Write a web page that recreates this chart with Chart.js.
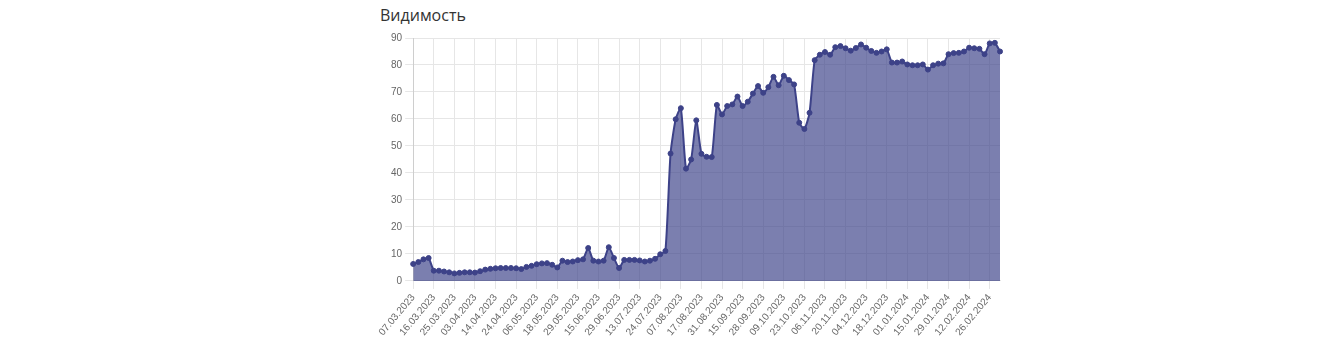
<!DOCTYPE html>
<html>
<head>
<meta charset="utf-8">
<script src="https://cdn.jsdelivr.net/npm/chart.js@4"></script>
<style>
  body { margin: 0; background: #fff; }
  .title { position: absolute; left: 380px; top: 4px; font: 16px "Open Sans", sans-serif; color: #333; }
  .box { position: absolute; left: 378px; top: 29px; width: 627px; height: 312px; }
</style>
</head>
<body>
<div class="title">Видимость</div>
<div class="box"><canvas id="chart"></canvas></div>
<script>
// ── Data ──────────────────────────────────────────────────────────────────────
const dates = [
  "07.03.2023","09.03.2023","11.03.2023","14.03.2023",
  "16.03.2023","18.03.2023","21.03.2023","23.03.2023",
  "25.03.2023","28.03.2023","30.03.2023","01.04.2023",
  "03.04.2023","06.04.2023","09.04.2023","11.04.2023",
  "14.04.2023","16.04.2023","19.04.2023","21.04.2023",
  "24.04.2023","27.04.2023","30.04.2023","03.05.2023",
  "06.05.2023","09.05.2023","12.05.2023","15.05.2023",
  "18.05.2023","21.05.2023","24.05.2023","26.05.2023",
  "29.05.2023","02.06.2023","06.06.2023","11.06.2023",
  "15.06.2023","19.06.2023","22.06.2023","26.06.2023",
  "29.06.2023","03.07.2023","06.07.2023","10.07.2023",
  "13.07.2023","16.07.2023","19.07.2023","21.07.2023",
  "24.07.2023","28.07.2023","31.07.2023","03.08.2023",
  "07.08.2023","10.08.2023","12.08.2023","15.08.2023",
  "17.08.2023","21.08.2023","24.08.2023","28.08.2023",
  "31.08.2023","04.09.2023","08.09.2023","11.09.2023",
  "15.09.2023","18.09.2023","21.09.2023","25.09.2023",
  "28.09.2023","01.10.2023","04.10.2023","06.10.2023",
  "09.10.2023","12.10.2023","16.10.2023","19.10.2023",
  "23.10.2023","26.10.2023","30.10.2023","02.11.2023",
  "06.11.2023","09.11.2023","13.11.2023","16.11.2023",
  "20.11.2023","23.11.2023","27.11.2023","30.11.2023",
  "04.12.2023","07.12.2023","11.12.2023","14.12.2023",
  "18.12.2023","21.12.2023","25.12.2023","28.12.2023",
  "01.01.2024","04.01.2024","08.01.2024","11.01.2024",
  "15.01.2024","18.01.2024","22.01.2024","25.01.2024",
  "29.01.2024","01.02.2024","05.02.2024","08.02.2024",
  "12.02.2024","15.02.2024","19.02.2024","22.02.2024",
  "26.02.2024","29.02.2024","04.03.2024"
];

const visibility = [
  6.3, 7, 8, 8.5, 3.8, 3.8, 3.5, 3.2, 2.8, 3,
  3.2, 3.2, 3.1, 3.6, 4.2, 4.5, 4.7, 4.8, 4.8, 4.8,
  4.7, 4.4, 5.2, 5.6, 6.2, 6.5, 6.6, 6, 5, 7.5,
  7, 7.2, 7.7, 8, 12.2, 7.5, 7.2, 7.5, 12.5, 8.5,
  4.8, 7.8, 7.8, 7.8, 7.6, 7.2, 7.5, 8.2, 9.9, 11.1,
  47.2, 59.9, 64, 41.6, 45, 59.5, 47.1, 46, 45.9, 65.2,
  61.7, 64.8, 65.4, 68.3, 64.8, 66.4, 69.4, 72.2, 69.7, 71.8,
  75.6, 72.5, 76, 74.4, 72.8, 58.6, 56.3, 62.3, 81.8, 83.8,
  84.8, 83.8, 86.6, 87, 86.2, 85.3, 86.3, 87.6, 86.4, 85.2,
  84.5, 85, 85.8, 80.9, 80.9, 81.3, 80.2, 79.9, 79.9, 80.2,
  78.3, 79.9, 80.5, 80.6, 84, 84.4, 84.5, 85, 86.4, 86.2,
  86, 84, 88, 88.2, 85
];

const yMax = 90;
const yStep = 10;
const labelEvery = 4;

// ── Chart ─────────────────────────────────────────────────────────────────────
const lineColor = "#3d4288";
const fillColor = "rgba(60, 66, 137, 0.68)";
const gridColor = "#e6e6e6";
const tickFont  = { family: "'Liberation Sans', Arial, sans-serif", size: 10 };

new Chart(document.getElementById("chart"), {
  type: "line",
  data: {
    labels: dates,
    datasets: [{
      data: visibility,
      borderColor: lineColor,
      backgroundColor: fillColor,
      pointBackgroundColor: lineColor,
      pointBorderColor: lineColor,
      borderWidth: 2,
      pointRadius: 2.5,
      pointBorderWidth: 1,
      tension: 0.2,
      fill: true,
    }],
  },
  options: {
    responsive: true, maintainAspectRatio: false,
    animation: false,
    scales: {
      x: {
        grid: { color: gridColor },
        ticks: {
          autoSkip: false,
          minRotation: 50, maxRotation: 50,
          color: "#666", font: tickFont,
          callback: (v, i) => (i % labelEvery === 0 ? dates[i] : null),
        },
      },
      y: {
        min: 0, max: yMax,
        grid: { color: gridColor },
        ticks: { stepSize: yStep, color: "#666", font: tickFont },
      },
    },
    plugins: {
      legend: { display: false },
      tooltip: { enabled: false },
    },
  },
});
</script>
</body>
</html>
